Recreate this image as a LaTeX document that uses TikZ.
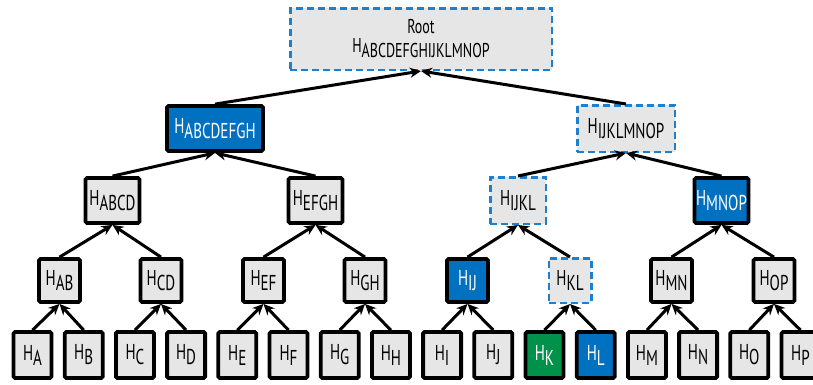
\documentclass[tikz,border=0pt]{standalone}
\usepackage{fontspec}
\setmainfont{PT Sans}[FakeStretch=0.70]
\usetikzlibrary{arrows.meta}
\definecolor{nodegray}{HTML}{E6E6E6}
\definecolor{hashblue}{HTML}{0070C0}
\definecolor{hashgreen}{HTML}{00924A}
\definecolor{dashblue}{HTML}{1F7FCB}
\newcommand{\hsub}[1]{H\raisebox{-5pt}{#1}}
\tikzset{
  hbox/.style={draw=black, line width=3.8pt, rounded corners=1.5pt, fill=nodegray, inner sep=0pt,
    font=\fontsize{21.5}{23}\selectfont, text=black},
  bluebox/.style={hbox, fill=hashblue, text=white},
  greenbox/.style={hbox, fill=hashgreen, text=white},
  dashbox/.style={hbox, draw=dashblue, line width=2.5pt, rounded corners=0pt, dash pattern=on 7pt off 4pt},
  leafsz/.style={minimum width=38pt, minimum height=46pt},
  lvltwo/.style={minimum width=41pt, minimum height=43pt},
  lvlthree/.style={minimum width=54pt, minimum height=45pt},
  lvlfour/.style={minimum width=96pt, minimum height=45pt},
  link/.style={-{Stealth[length=11pt,width=10pt]}, line width=3pt, black}
}
\begin{document}
\begin{tikzpicture}[x=1pt,y=-1pt]
\useasboundingbox (0,0) rectangle (813,384);
\clip (0,0) rectangle (813,384);
% root
\node[dashbox, minimum width=261.5pt, minimum height=61.5pt, align=center,
  font=\fontsize{20}{22}\selectfont] (root) at (421,39)
  {Root\\[-3pt]\hsub{ABCDEFGHIJKLMNOP}};
% level 4
\node[bluebox, lvlfour] (n1) at (215,128.5) {\hsub{ABCDEFGH}};
\node[dashbox, minimum width=97.5pt, minimum height=46.5pt] (n2) at (626,128.5) {\hsub{IJKLMNOP}};
% level 3
\node[hbox, lvlthree] (n11) at (112.5,200.5) {\hsub{ABCD}};
\node[hbox, lvlthree] (n12) at (315.5,200.5) {\hsub{EFGH}};
\node[dashbox, minimum width=55.5pt, minimum height=46.5pt] (n21) at (518,200.5) {\hsub{IJKL}};
\node[bluebox, lvlthree] (n22) at (721.5,200.5) {\hsub{MNOP}};
% level 2
\node[hbox, lvltwo] (AB) at (59.5,280.5) {\hsub{AB}};
\node[hbox, lvltwo] (CD) at (161,280.5) {\hsub{CD}};
\node[hbox, lvltwo] (EF) at (263.5,280.5) {\hsub{EF}};
\node[hbox, lvltwo] (GH) at (365,280.5) {\hsub{GH}};
\node[bluebox, lvltwo] (IJ) at (467.5,280.5) {\hsub{IJ}};
\node[dashbox, minimum width=42.5pt, minimum height=44.5pt] (KL) at (570,280.5) {\hsub{KL}};
\node[hbox, lvltwo] (MN) at (671.5,280.5) {\hsub{MN}};
\node[hbox, lvltwo] (OP) at (774,280.5) {\hsub{OP}};
% leaves
\node[hbox, leafsz] (A) at (32.5,355) {\hsub{A}};
\node[hbox, leafsz] (B) at (83.7,355) {\hsub{B}};
\node[hbox, leafsz] (C) at (134.9,355) {\hsub{C}};
\node[hbox, leafsz] (D) at (186.1,355) {\hsub{D}};
\node[hbox, leafsz] (E) at (237.3,355) {\hsub{E}};
\node[hbox, leafsz] (F) at (288.5,355) {\hsub{F}};
\node[hbox, leafsz] (G) at (339.7,355) {\hsub{G}};
\node[hbox, leafsz] (H) at (390.9,355) {\hsub{H}};
\node[hbox, leafsz] (I) at (442.1,355) {\hsub{I}};
\node[hbox, leafsz] (J) at (493.3,355) {\hsub{J}};
\node[greenbox, leafsz] (K) at (544.5,355) {\hsub{K}};
\node[bluebox, leafsz] (L) at (595.7,355) {\hsub{L}};
\node[hbox, leafsz] (M) at (646.9,355) {\hsub{M}};
\node[hbox, leafsz] (N) at (698.1,355) {\hsub{N}};
\node[hbox, leafsz] (O) at (749.3,355) {\hsub{O}};
\node[hbox, leafsz] (P) at (800.5,355) {\hsub{P}};
% links
\foreach \c/\p in {A/AB,B/AB,C/CD,D/CD,E/EF,F/EF,G/GH,H/GH,I/IJ,J/IJ,K/KL,L/KL,M/MN,N/MN,O/OP,P/OP,
  AB/n11,CD/n11,EF/n12,GH/n12,IJ/n21,KL/n21,MN/n22,OP/n22,n11/n1,n12/n1,n21/n2,n22/n2,n1/root,n2/root}
  \draw[link] (\c.north) -- (\p.south);
\end{tikzpicture}
\end{document}
